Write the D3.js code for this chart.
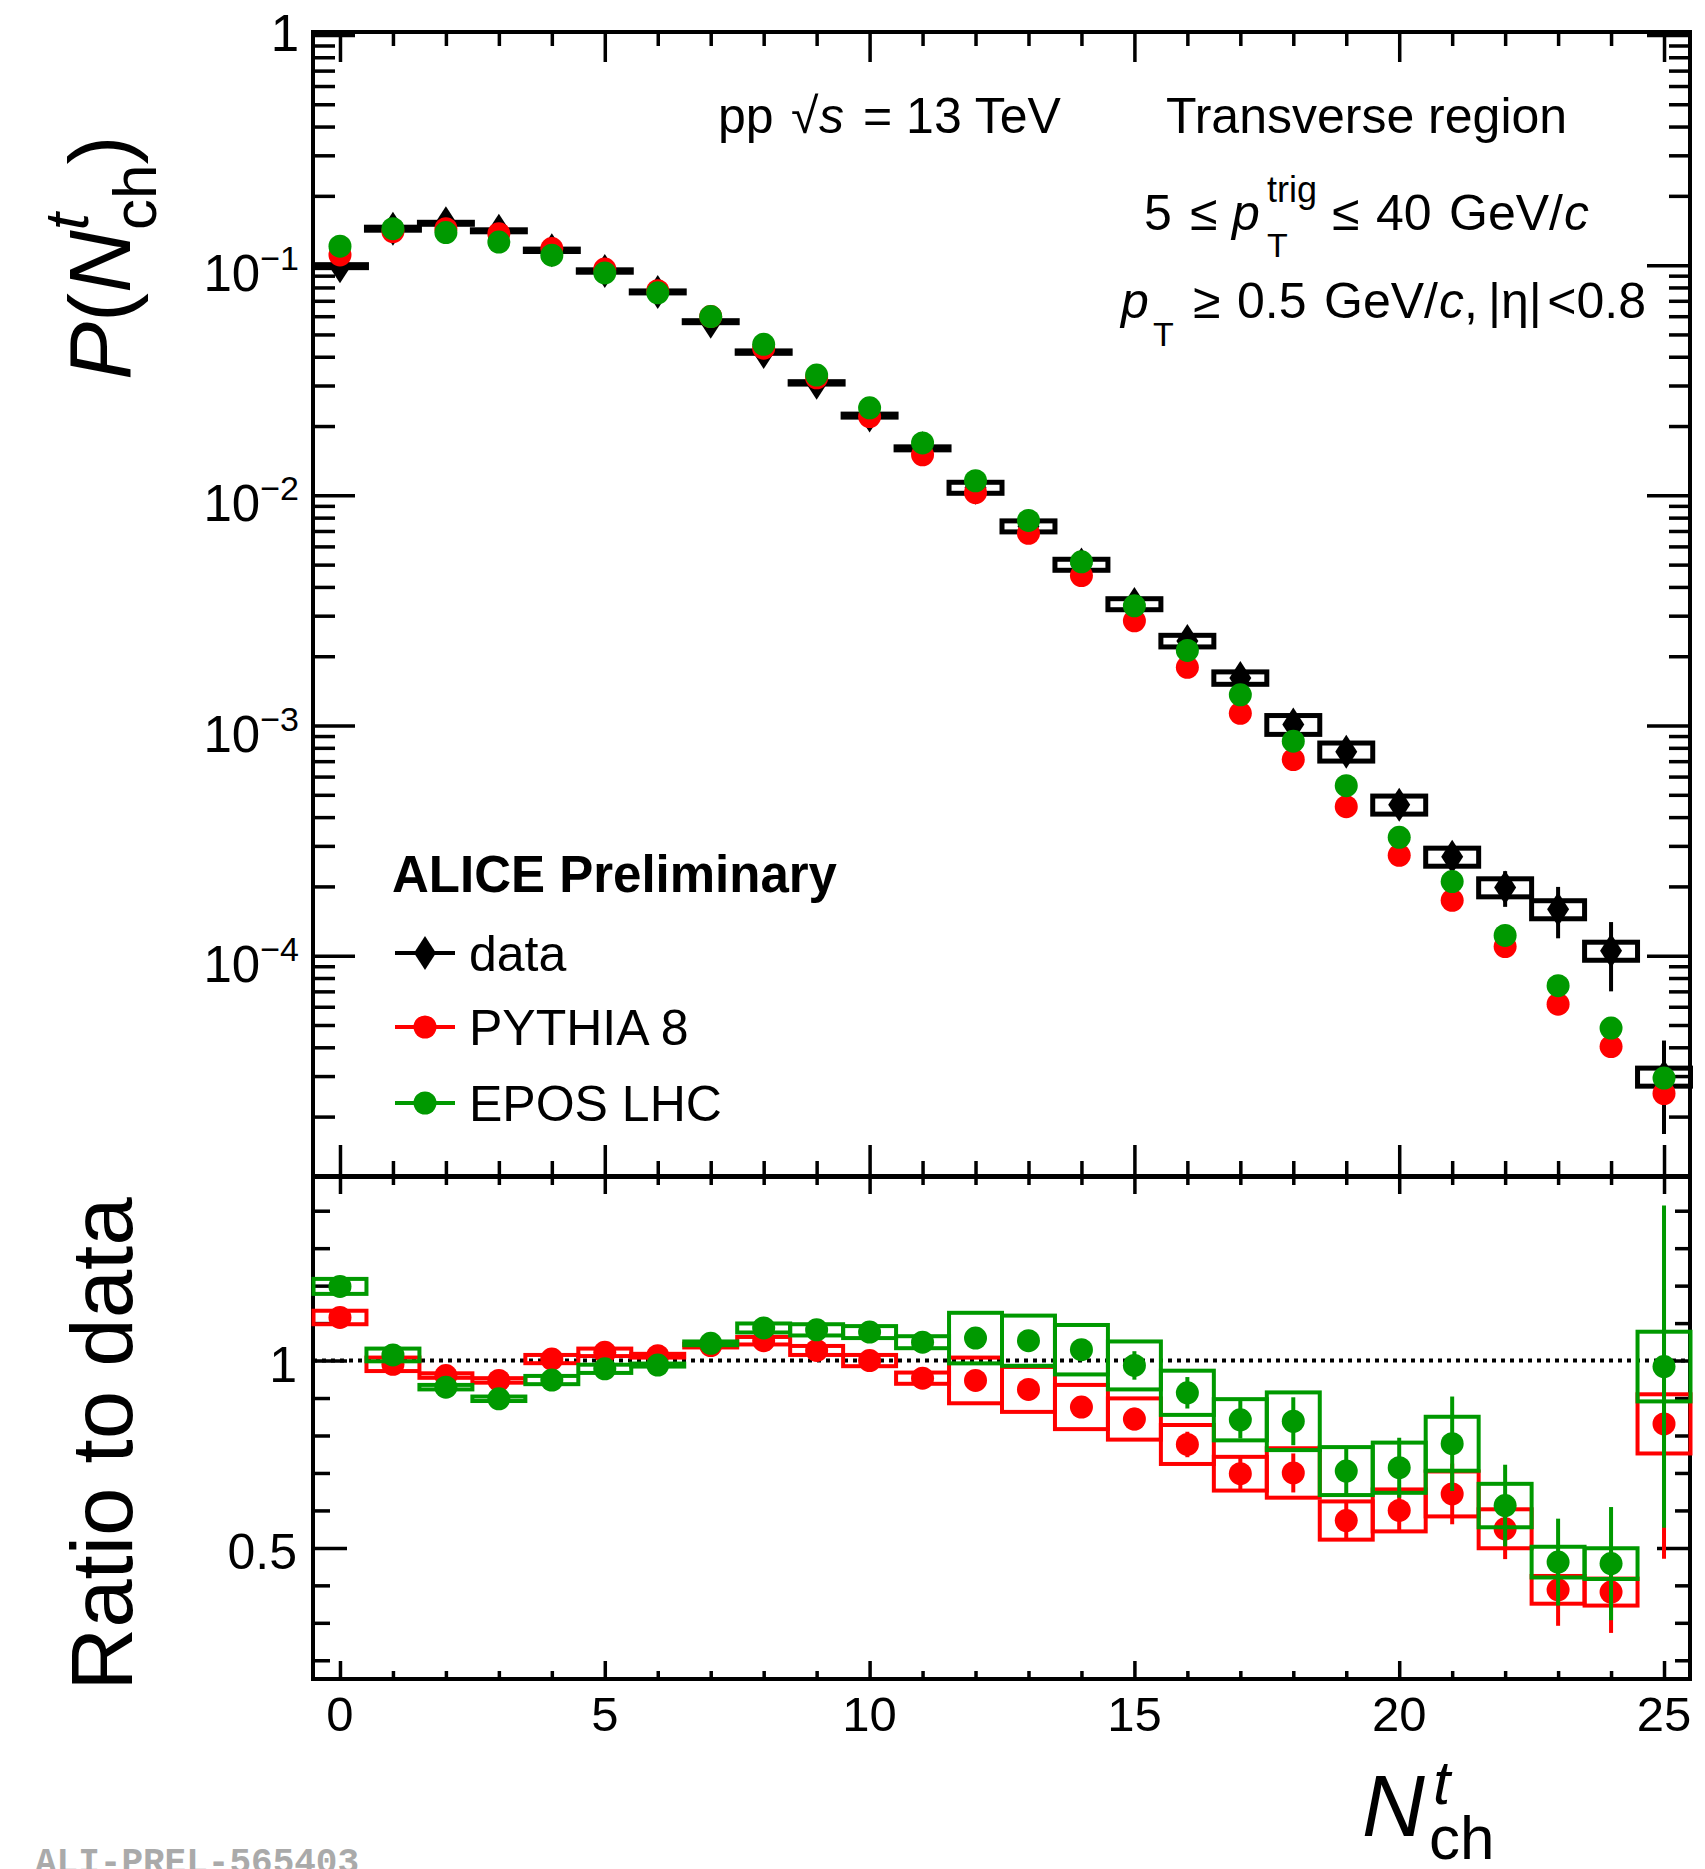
<!DOCTYPE html>
<html>
<head>
<meta charset="utf-8">
<script src="https://cdn.jsdelivr.net/npm/d3@7"></script>
<style>
  body { margin: 0; background: #fff; }
  text { font-family: "Liberation Sans", Arial, Helvetica, sans-serif; fill: #000; }
</style>
</head>
<body>
<svg id="chart" width="1705" height="1869"></svg>
<script>
// ---- values ----
const nch = [0,1,2,3,4,5,6,7,8,9,10,11,12,13,14,15,16,17,18,19,20,21,22,23,24,25];

const dataP = [0.099, 0.144, 0.152, 0.141, 0.116, 0.0943, 0.0765, 0.0568, 0.0419, 0.0308, 0.0222, 0.0160,
  0.0108, 0.00734, 0.0050, 0.00337, 0.00233, 0.00161, 0.00101, 0.00077, 0.000453, 0.000269,
  0.000198, 0.000159, 0.000105, 0.0000298];
const dataStat = [0,0,0,0,0,0,0,0,0,0,0,0,0,0,0,0,0,0,0,0, 0.00001, 0.00002, 0.000035, 0.00004, 0.000035, 0.000013];
const dataSystRel = [0.015,0.015,0.01,0.01,0.012,0.012,0.01,0.01,0.012,0.012,0.015,0.015,
  0.055,0.055,0.055,0.055,0.058,0.062,0.094,0.09,0.09,0.09,0.09,0.09,0.09,0.09];

const pythiaP = [0.1107, 0.140, 0.144, 0.137, 0.118, 0.0962, 0.0774, 0.0598, 0.0436, 0.0324, 0.0220, 0.0150,
  0.01027, 0.00684, 0.00448, 0.00285, 0.00179, 0.00113, 0.000711, 0.000444, 0.000273, 0.000174,
  0.0001096, 0.0000616, 0.0000403, 0.0000252];
const eposP = [0.1209, 0.144, 0.1385, 0.126, 0.1105, 0.0925, 0.0758, 0.0598, 0.0453, 0.0333, 0.0240, 0.01688,
  0.01157, 0.00778, 0.00514, 0.00331, 0.00212, 0.00136, 0.000855, 0.000548, 0.000327, 0.00021,
  0.0001225, 0.0000741, 0.0000485, 0.0000294];

const pythiaRatio = [1.115, 0.99, 0.96, 0.947, 1.004, 1.022, 1.013, 1.04, 1.053, 1.027, 1.0, 0.953,
  0.947, 0.923, 0.876, 0.844, 0.776, 0.698, 0.70, 0.573, 0.60, 0.644, 0.551, 0.388, 0.382, 0.831];
const pythiaRatioStat = [0,0,0,0,0,0,0,0,0,0,0,0, 0.01, 0.01, 0.015, 0.03, 0.034, 0.042, 0.052, 0.051,
  0.06, 0.081, 0.081, 0.096, 0.109, 0.36];
const pythiaRatioSyst = [0.018, 0.018, 0.006, 0.006, 0.011, 0.01, 0.005, 0.005, 0.01, 0.012, 0.015, 0.015,
  0.061, 0.06, 0.059, 0.055, 0.052, 0.045, 0.066, 0.051, 0.056, 0.06, 0.052, 0.037, 0.036, 0.079];

const eposRatio = [1.198, 1.015, 0.929, 0.898, 0.948, 0.978, 0.988, 1.046, 1.087, 1.082, 1.076, 1.049,
  1.060, 1.053, 1.029, 0.987, 0.914, 0.842, 0.838, 0.705, 0.714, 0.778, 0.613, 0.462, 0.458, 0.984];
const eposRatioStat = [0,0,0,0,0,0,0,0,0,0,0,0, 0.012, 0.012, 0.02, 0.038, 0.042, 0.05, 0.064, 0.064,
  0.08, 0.126, 0.109, 0.116, 0.151, 0.43];
const eposRatioSyst = [0.02, 0.017, 0.006, 0.006, 0.011, 0.011, 0.004, 0.005, 0.012, 0.015, 0.016, 0.016,
  0.0675, 0.067, 0.066, 0.064, 0.059, 0.055, 0.077, 0.064, 0.067, 0.072, 0.058, 0.041, 0.041, 0.093];

const xMajorTicks = [0, 5, 10, 15, 20, 25];
const yDecades = [1, 1e-1, 1e-2, 1e-3, 1e-4];
const yDecadeLabels = [["1", ""], ["10", "\u22121"], ["10", "\u22122"], ["10", "\u22123"], ["10", "\u22124"]];
const ratioMajorTicks = [0.5, 1];
const ratioLabels = ["0.5", "1"];
const ratioMinorTicks = [0.2, 0.3, 0.4, 0.6, 0.7, 0.8, 0.9, 1.1, 1.2, 1.3, 1.4];
const legendNames = ["data", "PYTHIA 8", "EPOS LHC"];

// ---- layout ----
let frame = { left: 313, right: 1690, top1: 32, bot1: 1176, top2: 1177, bot2: 1679 };
let red = "#ff0000", green = "#009900";

var svg = d3.select("#chart");

var x = d3.scaleLinear().domain([-0.5, 25.5]).range([313.5, 1690.5]);
var y = d3.scaleLog().domain([1.104e-5, 1.03]).range([frame.bot1, frame.top1]);
var yR = d3.scaleLinear().domain([0.15, 1.49]).range([frame.bot2, frame.top2]);

// minor log ticks 2..9 x decade, inside the domain
var logMinor = [];
[1e-5, 1e-4, 1e-3, 1e-2, 1e-1].forEach(dec => {
  for (let m = 2; m <= 9; m++) {
    let v = dec * m;
    if (v >= y.domain()[0] && v <= y.domain()[1]) logMinor.push(v);
  }
});
var xMinor = nch.filter(d => xMajorTicks.indexOf(d) < 0);

// tick helper, labels drawn separately
function tickSet(axisFn, scale, values, size, tx, ty) {
  svg.append("g")
    .attr("transform", "translate(" + tx + "," + ty + ")")
    .call(axisFn(scale).tickValues(values).tickSize(size).tickFormat(""))
    .call(g => g.select(".domain").remove())
    .selectAll("line")
    .attr("stroke", "#000")
    .attr("stroke-width", 3.5);
}

// top panel ticks
tickSet(d3.axisTop, x, xMajorTicks, -30, 0, frame.top1);
tickSet(d3.axisTop, x, xMinor, -14, 0, frame.top1);
tickSet(d3.axisBottom, x, xMajorTicks, -31, 0, frame.bot1);
tickSet(d3.axisBottom, x, xMinor, -15, 0, frame.bot1);
tickSet(d3.axisLeft, y, yDecades, -42, frame.left, 0);
tickSet(d3.axisLeft, y, logMinor, -22, frame.left, 0);
tickSet(d3.axisRight, y, yDecades, -43, frame.right, 0);
tickSet(d3.axisRight, y, logMinor, -21, frame.right, 0);

// ratio panel ticks
tickSet(d3.axisTop, x, xMajorTicks, -17, 0, frame.top2);
tickSet(d3.axisTop, x, xMinor, -8, 0, frame.top2);
tickSet(d3.axisBottom, x, xMajorTicks, -18, 0, frame.bot2);
tickSet(d3.axisBottom, x, xMinor, -8, 0, frame.bot2);
tickSet(d3.axisLeft, yR, ratioMajorTicks, -34, frame.left, 0);
tickSet(d3.axisLeft, yR, ratioMinorTicks, -17, frame.left, 0);
tickSet(d3.axisRight, yR, ratioMajorTicks, -33, frame.right, 0);
tickSet(d3.axisRight, yR, ratioMinorTicks, -15, frame.right, 0);

// frames
svg.append("rect")
  .attr("x", frame.left).attr("y", frame.top1)
  .attr("width", frame.right - frame.left).attr("height", frame.bot1 - frame.top1)
  .attr("fill", "none").attr("stroke", "#000").attr("stroke-width", 4);
svg.append("rect")
  .attr("x", frame.left).attr("y", frame.top2)
  .attr("width", frame.right - frame.left).attr("height", frame.bot2 - frame.top2)
  .attr("fill", "none").attr("stroke", "#000").attr("stroke-width", 4);

// tick labels
svg.selectAll(".xlab")
  .data(xMajorTicks)
  .enter().append("text")
  .attr("class", "xlab")
  .attr("x", d => x(d))
  .attr("y", 1731)
  .attr("text-anchor", "middle")
  .style("font-size", "49px")
  .text(d => d);

var ylab = svg.selectAll(".ylab")
  .data(yDecades)
  .enter().append("text")
  .attr("class", "ylab")
  .attr("x", 299)
  .attr("y", d => y(d) + 26)
  .attr("text-anchor", "end")
  .style("font-size", "51px");
ylab.append("tspan").text((d, i) => yDecadeLabels[i][0]);
ylab.append("tspan")
  .attr("dy", -21)
  .style("font-size", "34px")
  .text((d, i) => yDecadeLabels[i][1]);
// the plain "1" at the top sits a bit higher
ylab.filter((d, i) => i === 0).attr("y", d => y(d) + 16);

svg.selectAll(".rlab")
  .data(ratioMajorTicks)
  .enter().append("text")
  .attr("class", "rlab")
  .attr("x", 297)
  .attr("y", d => yR(d) + 21)
  .attr("text-anchor", "end")
  .style("font-size", "50px")
  .text((d, i) => ratioLabels[i]);

// ---- top panel marks ----
var boxW = x(0.5) - x(-0.5);

svg.append("g").selectAll("rect")
  .data(nch)
  .enter().append("rect")
  .attr("x", d => x(d - 0.5))
  .attr("width", boxW)
  .attr("y", (d, i) => y(dataP[i] * (1 + dataSystRel[i])))
  .attr("height", (d, i) => y(dataP[i] * (1 - dataSystRel[i])) - y(dataP[i] * (1 + dataSystRel[i])))
  .attr("fill", "none")
  .attr("stroke", "#000")
  .attr("stroke-width", 5);

svg.append("g").selectAll("line")
  .data(nch.filter((d, i) => dataStat[i] > 0))
  .enter().append("line")
  .attr("x1", d => x(d)).attr("x2", d => x(d))
  .attr("y1", d => y(dataP[d] + dataStat[d]))
  .attr("y2", d => y(dataP[d] - dataStat[d]))
  .attr("stroke", "#000")
  .attr("stroke-width", 4);

var diamond = "M0,-17L11,0L0,17L-11,0Z";
svg.append("g").selectAll("path")
  .data(nch)
  .enter().append("path")
  .attr("d", diamond)
  .attr("transform", (d, i) => "translate(" + x(d) + "," + y(dataP[i]) + ")")
  .attr("fill", "#000");

function dots(vals, scale, color) {
  svg.append("g").selectAll("circle")
    .data(nch)
    .enter().append("circle")
    .attr("cx", d => x(d))
    .attr("cy", (d, i) => scale(vals[i]))
    .attr("r", 11.5)
    .attr("fill", color);
}
dots(pythiaP, y, red);
dots(eposP, y, green);

// ---- ratio panel marks ----
svg.append("line")
  .attr("x1", frame.left).attr("x2", frame.right)
  .attr("y1", yR(1)).attr("y2", yR(1))
  .attr("stroke", "#000")
  .attr("stroke-width", 4)
  .attr("stroke-dasharray", "4,5");

function ratioSeries(vals, stat, syst, color) {
  svg.append("g").selectAll("rect")
    .data(nch)
    .enter().append("rect")
    .attr("x", d => x(d - 0.5))
    .attr("width", boxW)
    .attr("y", (d, i) => yR(vals[i] + syst[i]))
    .attr("height", (d, i) => yR(vals[i] - syst[i]) - yR(vals[i] + syst[i]))
    .attr("fill", "none")
    .attr("stroke", color)
    .attr("stroke-width", 4);

  svg.append("g").selectAll("line")
    .data(nch.filter((d, i) => stat[i] > 0))
    .enter().append("line")
    .attr("x1", d => x(d)).attr("x2", d => x(d))
    .attr("y1", d => yR(vals[d] + stat[d]))
    .attr("y2", d => yR(vals[d] - stat[d]))
    .attr("stroke", color)
    .attr("stroke-width", 4);

  dots(vals, yR, color);
}
ratioSeries(pythiaRatio, pythiaRatioStat, pythiaRatioSyst, red);
ratioSeries(eposRatio, eposRatioStat, eposRatioSyst, green);

// ---- legend ----
svg.append("text")
  .attr("x", 392).attr("y", 892)
  .style("font-size", "51px")
  .style("font-weight", "bold")
  .text("ALICE Preliminary");

var legendY = [953, 1027, 1103];
var legendColor = ["#000", red, green];
var leg = svg.selectAll(".legend")
  .data(legendNames)
  .enter().append("g")
  .attr("class", "legend")
  .attr("transform", (d, i) => "translate(0," + legendY[i] + ")");
leg.append("line")
  .attr("x1", 395).attr("x2", 455)
  .attr("stroke", (d, i) => legendColor[i])
  .attr("stroke-width", 4);
leg.filter((d, i) => i === 0).append("path")
  .attr("d", diamond)
  .attr("transform", "translate(425,0)")
  .attr("fill", "#000");
leg.filter((d, i) => i > 0).append("circle")
  .attr("cx", 425).attr("r", 11.5)
  .attr("fill", (d, i) => legendColor[i + 1]);
leg.append("text")
  .attr("x", 469).attr("y", 18)
  .style("font-size", "50px")
  .text(d => d);

// ---- annotations ----
function label(xp, yp, str, size, italic, anchor) {
  return svg.append("text")
    .attr("x", xp).attr("y", yp)
    .attr("text-anchor", anchor || "start")
    .style("font-size", size + "px")
    .style("font-style", italic ? "italic" : "normal")
    .text(str);
}
label(718, 133, "pp", 50);
label(791, 133, "\u221A", 50);
label(819, 133, "s", 50, true);
label(863, 133, "= 13 TeV", 50);
label(1166, 133, "Transverse region", 50);

label(1144, 230, "5", 50);
label(1190, 230, "\u2264", 50);
label(1232, 230, "p", 50, true);
label(1267, 202, "trig", 36);
label(1267, 257, "T", 34);
label(1332, 230, "\u2264", 50);
label(1376, 230, "40", 50);
label(1449, 230, "GeV/", 50);
label(1564, 230, "c", 50, true);

label(1121, 318, "p", 50, true);
label(1153, 346, "T", 34);
label(1193, 318, "\u2265", 50);
label(1237, 318, "0.5", 50);
label(1324, 318, "GeV/", 50);
label(1439, 318, "c", 50, true);
label(1464, 318, ",", 50);
label(1488, 318, "|\u03B7|", 50);
label(1646, 318, "<0.8", 50, false, "end");

// y titles
var ty = svg.append("text")
  .attr("transform", "translate(130,380) rotate(-90)")
  .style("font-size", "87px");
ty.append("tspan").style("font-style", "italic").text("P");
ty.append("tspan").text("(");
ty.append("tspan").style("font-style", "italic").text("N");
ty.append("tspan").attr("dy", -42).style("font-size", "62px").style("font-style", "italic").text("t");
ty.append("tspan").attr("dx", -17).attr("dy", 68).style("font-size", "62px").text("ch");
ty.append("tspan").attr("dy", -26).text(")");

svg.append("text")
  .attr("transform", "translate(132,1444) rotate(-90)")
  .attr("text-anchor", "middle")
  .style("font-size", "87px")
  .text("Ratio to data");

// x title
label(1362, 1836, "N", 87, true);
label(1433, 1804, "t", 62, true);
label(1429, 1859, "ch", 62);

// preliminary tag, cut by the bottom edge as in the original
svg.append("text")
  .attr("x", 35).attr("y", 1873)
  .style("font-family", "'Liberation Mono', 'DejaVu Sans Mono', monospace")
  .style("font-weight", "bold")
  .style("font-size", "36px")
  .style("fill", "#aaaaaa")
  .text("ALI-PREL-565403");
</script>
</body>
</html>
